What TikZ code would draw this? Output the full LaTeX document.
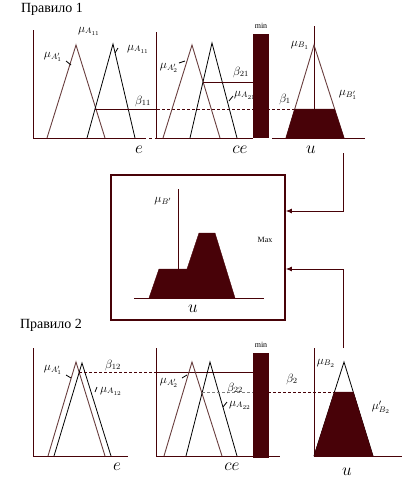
\documentclass[tikz,border=0pt]{standalone}
\usepackage{fontspec}
\setmainfont{Liberation Serif}
\usetikzlibrary{arrows.meta}
\definecolor{dred}{RGB}{72,2,8}
\definecolor{mbrown}{RGB}{105,62,62}
\tikzset{every picture/.style={line width=0.8pt}}
\tikzset{
  axis/.style={draw=dred, line width=0.8pt},
  mfA/.style={draw=mbrown, line width=0.9pt},
  mfB/.style={draw=black, line width=0.8pt},
  cut/.style={fill=dred, draw=dred, line width=0.4pt},
  lvl/.style={draw=dred, dash pattern=on 3pt off 2pt},
  lbl/.style={font=\fontsize{12}{12}\selectfont, inner sep=0pt},
  var/.style={font=\fontsize{16}{16}\selectfont, inner sep=0pt},
  ttl/.style={font=\fontsize{14}{14}\selectfont, inner sep=0pt},
  opn/.style={font=\fontsize{8}{8}\selectfont, inner sep=0pt},
  arr/.style={draw=dred, -{Latex[length=6pt,width=5pt]}},
}
\begin{document}
\begin{tikzpicture}[x=1pt,y=1pt,yscale=-1]
        \useasboundingbox (0,0) rectangle (406,480);

        %Text: rule 1
        \node[ttl] (rule1) at (52,9) {Правило 1};
        %Shape: e axes and terms
        \draw[axis] (33,30) -- (33,138) -- (143,138);
        \draw[axis, dashed] (143,138) -- (157,138);
        \draw[mfA] (47,138) -- (76,45) -- (105,138);
        \draw[mfB] (87,138) -- (113,44) -- (135,138);
        \draw[dred] (95,109) -- (157,109);
        \draw[lvl] (157,109) -- (295,109);
        \node[lbl] (muAa) at (53,57) {$\mu_{A'_1}$};
        \draw (66,61) -- (71,65);
        \node[lbl] (muAb) at (89,31) {$\mu_{A_{11}}$};
        \node[lbl] (muAc) at (138,49) {$\mu_{A_{11}}$};
        \draw (118,48) -- (115,53);
        \node[lbl] (b11) at (143,101) {$\beta_{11}$};
        \node[var] (e1) at (139,150) {$e$};

        %Shape: ce axes and terms
        \draw[axis] (156,32) -- (156,138) -- (253,138);
        \draw[mfA] (163,138) -- (192,45) -- (220,138);
        \draw[mfB] (190,138) -- (212,43) -- (237,138);
        \draw[dred] (203,82) -- (253,82);
        \node[lbl] (muAd) at (169,68) {$\mu_{A'_2}$};
        \draw (179,63) -- (185,61);
        \node[lbl] (b21) at (241,72) {$\beta_{21}$};
        \node[lbl] (muAe) at (245,95) {$\mu_{A_{21}}$};
        \draw (233,96) -- (229,101);
        \node[var] (ce1) at (240,150) {$ce$};
        \fill[cut] (253,34) rectangle (268,137);
        \node[opn] (min1) at (261,26) {min};

        %Shape: u axes and clipped output
        \draw[axis] (314,26) -- (314,138);
        \draw[axis] (272,138) -- (365,138);
        \draw[mfA] (286,138) -- (314,45) -- (344,138);
        \fill[cut] (286,138) -- (294.7,109) -- (334.6,109) -- (344,138) -- cycle;
        \node[lbl] (muBa) at (300,45) {$\mu_{B_1}$};
        \node[lbl] (b1) at (285,99) {$\beta_1$};
        \node[lbl] (muBb) at (348,95) {$\mu_{B'_1}$};
        \node[var] (u1) at (311,150) {$u$};

        %Shape: Max box
        \node[draw=dred, line width=1.8pt, minimum width=174pt, minimum height=145pt, inner sep=0pt] (maxbox) at (198,247.5) {};
        \draw[axis] (178,189) -- (178,269);
        \draw[axis] (134,298) -- (264,298);
        \fill[cut] (149,298) -- (159,269) -- (187,269) -- (199,233) -- (215,233) -- (235,298) -- cycle;
        \node[lbl] (muB) at (163,201) {$\mu_{B'}$};
        \node[var] (u0) at (193,309) {$u$};
        \node[opn] (maxlbl) at (265,240) {Max};
        \coordinate (r1) at (343,153);
        \coordinate (r2) at (343,348);
        \draw[arr] (r1) |- (maxbox.east |- 0,211);
        \draw[arr] (r2) |- (maxbox.east |- 0,269);

        %Text: rule 2
        \node[ttl] (rule2) at (51,325) {Правило 2};
        %Shape: e axes and terms
        \draw[axis] (33,348) -- (33,456) -- (128,456);
        \draw[mfA] (48,456) -- (76,362) -- (105,456);
        \draw[mfB] (54,456) -- (82,363) -- (111,456);
        \draw[lvl] (79,372) -- (157,372);
        \draw[dred] (157,372) -- (253,372);
        \node[lbl] (muAf) at (53,370) {$\mu_{A'_1}$};
        \draw (66,375) -- (71,378);
        \node[lbl] (b12) at (113,365) {$\beta_{12}$};
        \node[lbl] (muAg) at (111,391) {$\mu_{A_{12}}$};
        \draw (95,392) -- (97,387);
        \node[var] (e2) at (117,467) {$e$};

        %Shape: ce axes and terms
        \draw[axis] (156,348) -- (156,456) -- (280,456);
        \draw[mfA] (164,456) -- (192,362) -- (222,456);
        \draw[mfB] (186,456) -- (210,362) -- (237,456);
        \draw[lvl, gray] (202,392) -- (253,392);
        \draw[lvl] (268,392) -- (334,392);
        \node[lbl] (muAh) at (169,383) {$\mu_{A'_2}$};
        \draw (182,378) -- (187,375);
        \node[lbl] (b22) at (235,388) {$\beta_{22}$};
        \node[lbl] (muAi) at (240,405) {$\mu_{A_{22}}$};
        \draw (223,407) -- (227,402);
        \node[var] (ce2) at (232,467) {$ce$};
        \fill[cut] (253,353) rectangle (268,457);
        \node[opn] (min2) at (261,345) {min};

        %Shape: u axes and clipped output
        \draw[axis] (314,348) -- (314,456) -- (402,456);
        \draw[mfB] (314,456) -- (344,362) -- (373,456);
        \fill[cut] (314,456) -- (334.4,392) -- (353.3,392) -- (373,456) -- cycle;
        \node[lbl] (muBc) at (326,363) {$\mu_{B_2}$};
        \node[lbl] (b2) at (292,379) {$\beta_2$};
        \node[lbl] (muBd) at (381,407) {$\mu'_{B_2}$};
        \node[var] (u2) at (347,472) {$u$};

\end{tikzpicture}
\end{document}
